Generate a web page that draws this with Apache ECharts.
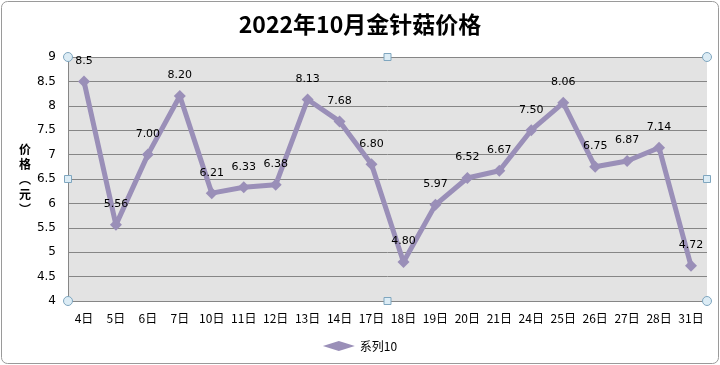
<!DOCTYPE html>
<html><head><meta charset="utf-8">
<script src="https://cdn.jsdelivr.net/npm/echarts@6/dist/echarts.min.js"></script>
<style>html,body{margin:0;padding:0;background:#fff}#c{width:720px;height:365px}</style>
</head><body><div id="c"></div>
<script>
const categories = ['4日','5日','6日','7日','10日','11日','12日','13日','14日','17日','18日','19日','20日','21日','24日','25日','26日','27日','28日','31日'];
const prices = [8.5,5.56,7.00,8.20,6.21,6.33,6.38,8.13,7.68,6.80,4.80,5.97,6.52,6.67,7.50,8.06,6.75,6.87,7.14,4.72];
const priceLabels = ['8.5','5.56','7.00','8.20','6.21','6.33','6.38','8.13','7.68','6.80','4.80','5.97','6.52','6.67','7.50','8.06','6.75','6.87','7.14','4.72'];
const yTicks = [4,4.5,5,5.5,6,6.5,7,7.5,8,8.5,9];

const chart = echarts.init(document.getElementById('c'));
const L=68,R=707,T=57,B=301;
const handleStyle={fill:'#dcecf5',stroke:'#7fa6bf',lineWidth:1};
const circ=(x,y)=>({type:'circle',shape:{cx:x,cy:y,r:4.5},style:handleStyle,z:100});
const sq=(x,y)=>({type:'rect',shape:{x:x-3.5,y:y-3.5,width:7,height:7},style:handleStyle,z:100});
chart.setOption({
  animation:false,
  title:{text:'2022年10月金针菇价格',left:'center',top:8,textStyle:{fontFamily:'Noto Sans CJK SC',fontWeight:'bold',fontSize:23,color:'#000'}},
  grid:{left:L,right:720-R,top:T,bottom:365-B},
  legend:{bottom:8,left:'center',itemWidth:32,itemHeight:10,textStyle:{fontFamily:'Noto Sans CJK SC',fontSize:12,color:'#000'},data:[{name:'系列10',icon:'diamond'}]},
  xAxis:{type:'category',data:categories,boundaryGap:true,
    axisLine:{lineStyle:{color:'#868686',width:1}},axisTick:{show:false},
    axisLabel:{color:'#000',fontFamily:'Noto Sans CJK SC',fontSize:12,margin:11,interval:0}},
  yAxis:{type:'value',min:4,max:9,interval:0.5,
    name:'价\n格\n︵\n元\n︶',nameLocation:'middle',nameRotate:0,nameGap:36,
    nameTextStyle:{fontFamily:'Noto Sans CJK SC',fontWeight:'bold',fontSize:12,color:'#000',lineHeight:15},
    axisLine:{show:true,lineStyle:{color:'#868686',width:1}},axisTick:{show:false},
    splitLine:{lineStyle:{color:'#868686',width:1}},
    splitArea:{show:false},
    axisLabel:{color:'#000',fontFamily:'DejaVu Sans',fontSize:12,margin:12,formatter:v=>yTicks.includes(v)?String(v):''}},
  series:[{name:'系列10',type:'line',data:prices,
    lineStyle:{color:'#9a8fb8',width:5},itemStyle:{color:'#9a8fb8'},
    symbol:'diamond',symbolSize:12,
    label:{show:true,position:'top',distance:9,color:'#000',fontFamily:'DejaVu Sans',fontSize:11,
      formatter:p=>priceLabels[p.dataIndex]}}],
  graphic:[
    {type:'rect',shape:{x:L,y:T,width:R-L,height:B-T},style:{fill:'#e3e3e3'},z:-10,silent:true},
    {type:'rect',shape:{x:1.5,y:1.5,width:717,height:362,r:6},style:{fill:null,stroke:'#9a9a9a',lineWidth:1},z:-20,silent:true},
    circ(L,T),circ(R,T),circ(L,B),circ(R,B),
    sq((L+R)/2,T),sq((L+R)/2,B),sq(L,(T+B)/2),sq(R,(T+B)/2)
  ]
});
</script></body></html>
